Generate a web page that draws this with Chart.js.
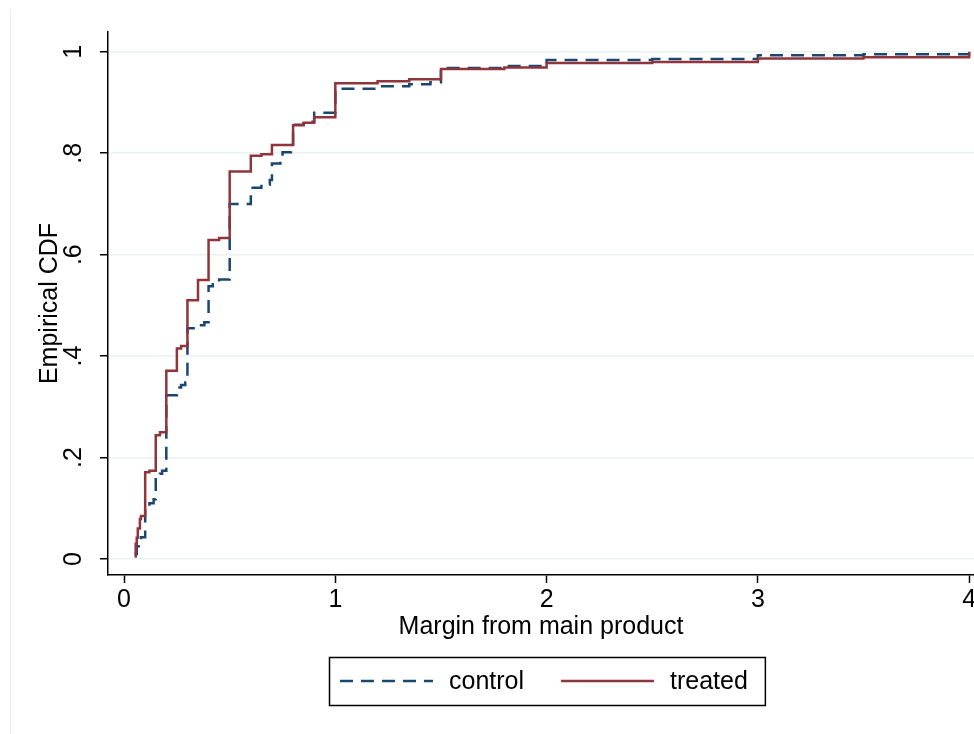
<!DOCTYPE html>
<html>
<head>
<meta charset="utf-8">
<title>Empirical CDF</title>
<script src="https://cdn.jsdelivr.net/npm/chart.js@4.4.1/dist/chart.umd.min.js"></script>
<style>
    html, body { margin: 0; padding: 0; background: #fff; }
    #wrap { width: 974px; height: 734px; }
</style>
</head>
<body>
<div id="wrap"><canvas id="chart" width="974" height="734"></canvas></div>
<script>
var xTicks = [0, 1, 2, 3, 4];
var yTicks = [0, 0.2, 0.4, 0.6, 0.8, 1];

// control group ECDF (step points)
var controlX = [0.05, 0.06, 0.07, 0.08, 0.1, 0.12, 0.14, 0.15, 0.17, 0.18, 0.2, 0.25, 0.27, 0.29, 0.3, 0.35, 0.38,
    0.4, 0.42, 0.45, 0.5, 0.6, 0.65, 0.69, 0.7, 0.74, 0.75, 0.79, 0.8, 0.85, 0.9, 1.0, 1.2, 1.35, 1.45, 1.5, 1.8,
    2.0, 2.5, 3.0, 3.5, 4.0];
var controlY = [0.01, 0.025, 0.035, 0.043, 0.105, 0.11, 0.118, 0.161, 0.168, 0.174, 0.323, 0.338, 0.343, 0.348,
    0.455, 0.461, 0.467, 0.538, 0.545, 0.551, 0.70, 0.732, 0.738, 0.747, 0.78, 0.787, 0.802, 0.807, 0.856, 0.862,
    0.88, 0.927, 0.932, 0.936, 0.94, 0.968, 0.972, 0.984, 0.986, 0.993, 0.995, 1.0];

// treated group ECDF
var treatedX = [0.05, 0.055, 0.06, 0.065, 0.075, 0.08, 0.1, 0.12, 0.15, 0.17, 0.2, 0.25, 0.27, 0.3, 0.35, 0.4,
    0.45, 0.5, 0.6, 0.65, 0.7, 0.8, 0.85, 0.9, 1.0, 1.2, 1.35, 1.5, 1.8, 2.0, 2.5, 3.0, 3.5, 4.0];
var treatedY = [0.005, 0.03, 0.042, 0.06, 0.079, 0.085, 0.171, 0.174, 0.244, 0.25, 0.371, 0.415, 0.42, 0.51, 0.55,
    0.629, 0.633, 0.764, 0.795, 0.798, 0.816, 0.855, 0.86, 0.871, 0.938, 0.942, 0.946, 0.966, 0.969, 0.978, 0.98,
    0.987, 0.989, 1.0];

var FONT = '"Liberation Sans", Arial, Helvetica, sans-serif';
var NAVY = '#1a476f';
var MAROON = '#90353b';

function toPoints(xs, ys) {
    return xs.map(function (x, i) {
        return { x: x, y: ys[i] };
    });
}

// Stata style box legend under the plot, plus the faint graph region edge
var boxLegend = {
    id: 'boxLegend',
    afterDraw: function (chart) {
        var ctx = chart.ctx;
        var items = chart.data.datasets;
        var sample = 93, gapText = 16, gapItem = 37, padL = 11, padR = 17;
        var cy = 681, half = 24;

        ctx.save();
        ctx.strokeStyle = '#e6eef0';
        ctx.lineWidth = 1;
        ctx.beginPath();
        ctx.moveTo(10.5, 10);
        ctx.lineTo(10.5, chart.height);
        ctx.stroke();

        ctx.font = '25px ' + FONT;
        var widths = items.map(function (d) { return ctx.measureText(d.label).width; });
        var total = padL + padR + gapItem;
        widths.forEach(function (w) { total += sample + gapText + w; });
        var left = Math.round(546.5 - total / 2);

        ctx.strokeStyle = '#000';
        ctx.lineWidth = 1.5;
        ctx.strokeRect(left + 0.5, cy - half + 0.5, total, half * 2);

        var x = left + padL;
        ctx.textBaseline = 'middle';
        ctx.textAlign = 'left';
        items.forEach(function (d, i) {
            ctx.beginPath();
            ctx.setLineDash(d.borderDash || []);
            ctx.strokeStyle = d.borderColor;
            ctx.lineWidth = d.borderWidth;
            ctx.moveTo(x, cy);
            ctx.lineTo(x + sample, cy);
            ctx.stroke();
            ctx.setLineDash([]);
            x += sample + gapText;
            ctx.fillStyle = '#000';
            ctx.fillText(d.label, x, cy + 1);
            x += widths[i] + gapItem;
        });
        ctx.restore();
    }
};

var ctx = document.getElementById('chart');

var WidgetChart = new Chart(ctx, {
    type: 'line',
    data: {
        datasets: [
            {
                label: 'control',
                data: toPoints(controlX, controlY),
                borderColor: NAVY,
                backgroundColor: NAVY,
                borderWidth: 2.5,
                borderDash: [13, 8],
                stepped: 'before',
                pointRadius: 0,
                fill: false,
                order: 1
            },
            {
                label: 'treated',
                data: toPoints(treatedX, treatedY),
                borderColor: MAROON,
                backgroundColor: MAROON,
                borderWidth: 2.5,
                stepped: 'before',
                pointRadius: 0,
                fill: false,
                order: 0
            }
        ]
    },
    options: {
        responsive: false,
        animation: false,
        layout: {
            padding: { top: 32, right: 0, bottom: 89, left: 0 }
        },
        plugins: {
            legend: { display: false },
            tooltip: { enabled: false }
        },
        scales: {
            x: {
                type: 'linear',
                min: -0.076,
                max: 4.023,
                afterBuildTicks: function (scale) {
                    scale.ticks = xTicks.map(function (v) { return { value: v }; });
                },
                afterFit: function (scale) {
                    scale.height = 70;
                    scale.paddingLeft = 0;
                    scale.paddingRight = 0;
                },
                ticks: {
                    color: '#000',
                    padding: 2,
                    maxRotation: 0,
                    font: { family: FONT, size: 25 },
                    callback: function (v) { return String(v); }
                },
                grid: {
                    drawOnChartArea: false,
                    tickColor: '#000',
                    tickLength: 8,
                    tickWidth: 1.5
                },
                border: { color: '#000', width: 1.5 },
                title: {
                    display: true,
                    text: 'Margin from main product',
                    color: '#000',
                    font: { family: FONT, size: 25 },
                    padding: { top: 0, bottom: 3 }
                }
            },
            y: {
                type: 'linear',
                min: -0.0315,
                max: 1.039,
                afterBuildTicks: function (scale) {
                    scale.ticks = yTicks.map(function (v) { return { value: v }; });
                },
                afterFit: function (scale) {
                    scale.width = 108;
                    scale.paddingTop = 0;
                    scale.paddingBottom = 0;
                },
                ticks: {
                    color: '#000',
                    padding: 15,
                    minRotation: 90,
                    maxRotation: 90,
                    crossAlign: 'center',
                    font: { family: FONT, size: 25 },
                    callback: function (v) {
                        if (v === 0) return '0';
                        if (v === 1) return '1';
                        return v.toFixed(1).replace(/^0/, '');
                    }
                },
                grid: {
                    color: '#eaf2f3',
                    lineWidth: 1.5,
                    tickColor: '#000',
                    tickLength: 8,
                    tickWidth: 1.5
                },
                border: { color: '#000', width: 1.5 },
                title: {
                    display: true,
                    text: 'Empirical CDF',
                    color: '#000',
                    font: { family: FONT, size: 25 },
                    padding: { top: 35, bottom: 0 }
                }
            }
        }
    },
    plugins: [boxLegend]
});
</script>
</body>
</html>
